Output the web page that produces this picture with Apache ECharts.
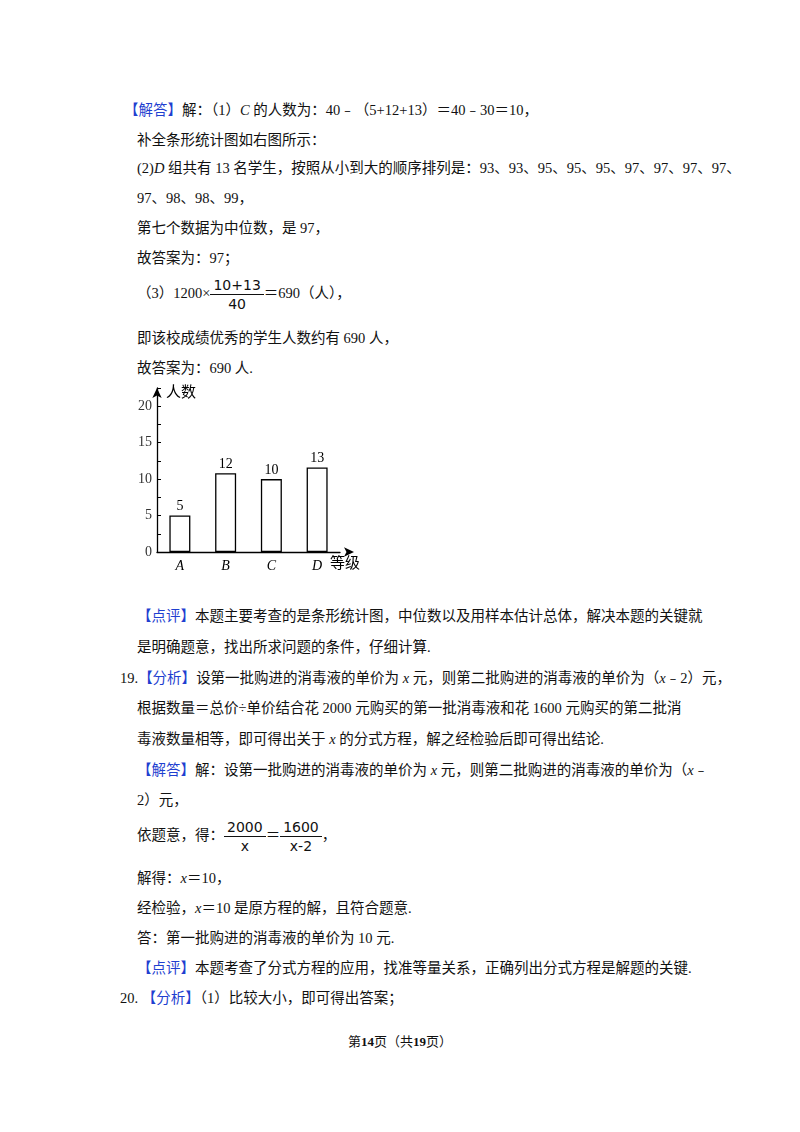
<!DOCTYPE html>
<html lang="zh">
<head>
<meta charset="UTF-8">
<title>第14页</title>
<script src="https://cdn.jsdelivr.net/npm/echarts@6/dist/echarts.min.js"></script>
<style>
  body { margin:0; width:800px; height:1132px; background:#fff; position:relative;
         font-family:"Liberation Serif","Noto Sans CJK SC",serif; font-size:14.5px; color:#111; }
  .l { position:absolute; white-space:nowrap; line-height:20px; }
  .b { color:#1f3fd0; }
  i { font-family:"Liberation Serif",serif; }
  .fr { display:inline-block; vertical-align:middle; text-align:center; font-family:"DejaVu Sans",sans-serif; font-size:14px; }
  .fr span { display:block; padding:0 3px; line-height:18px; }
  .fr span:first-child { border-bottom:1px solid #111; }
</style>
</head>
<body>
<div class="l" style="left:124px;top:100px"><span class="b">【解答】</span>解：（1）<i>C</i> 的人数为：40﹣（5+12+13）＝40﹣30＝10，</div>
<div class="l" style="left:137px;top:130px">补全条形统计图如右图所示：</div>
<div class="l" style="left:137px;top:158px">(2)<i>D</i> 组共有 13 名学生，按照从小到大的顺序排列是：93、93、95、95、95、97、97、97、97、</div>
<div class="l" style="left:137px;top:188px">97、98、98、99，</div>
<div class="l" style="left:137px;top:218px">第七个数据为中位数，是 97，</div>
<div class="l" style="left:137px;top:248px">故答案为：97；</div>
<div class="l" style="left:137px;top:276px">（3）1200×<span class="fr"><span>10+13</span><span>40</span></span>＝690（人），</div>
<div class="l" style="left:137px;top:328px">即该校成绩优秀的学生人数约有 690 人，</div>
<div class="l" style="left:137px;top:358px">故答案为：690 人.</div>

<div id="main" style="position:absolute;left:130px;top:380px;width:240px;height:200px"></div>

<div class="l" style="left:137px;top:606px"><span class="b">【点评】</span>本题主要考查的是条形统计图，中位数以及用样本估计总体，解决本题的关键就</div>
<div class="l" style="left:137px;top:637px">是明确题意，找出所求问题的条件，仔细计算.</div>
<div class="l" style="left:120px;top:668px">19.<span class="b">【分析】</span>设第一批购进的消毒液的单价为 <i>x</i> 元，则第二批购进的消毒液的单价为（<i>x</i>﹣2）元，</div>
<div class="l" style="left:137px;top:698px">根据数量＝总价÷单价结合花 2000 元购买的第一批消毒液和花 1600 元购买的第二批消</div>
<div class="l" style="left:137px;top:729px">毒液数量相等，即可得出关于 <i>x</i> 的分式方程，解之经检验后即可得出结论.</div>
<div class="l" style="left:137px;top:760px"><span class="b">【解答】</span>解：设第一批购进的消毒液的单价为 <i>x</i> 元，则第二批购进的消毒液的单价为（<i>x</i>﹣</div>
<div class="l" style="left:137px;top:790px">2）元，</div>
<div class="l" style="left:137px;top:818px">依题意，得：<span class="fr"><span>2000</span><span>x</span></span>＝<span class="fr"><span>1600</span><span>x-2</span></span>，</div>
<div class="l" style="left:137px;top:868px">解得：<i>x</i>＝10，</div>
<div class="l" style="left:137px;top:898px">经检验，<i>x</i>＝10 是原方程的解，且符合题意.</div>
<div class="l" style="left:137px;top:928px">答：第一批购进的消毒液的单价为 10 元.</div>
<div class="l" style="left:137px;top:958px"><span class="b">【点评】</span>本题考查了分式方程的应用，找准等量关系，正确列出分式方程是解题的关键.</div>
<div class="l" style="left:120px;top:988px">20.&nbsp;<span class="b">【分析】</span>（1）比较大小，即可得出答案；</div>
<div class="l" style="left:0;width:800px;text-align:center;top:1032px;font-size:13px">第<b>14</b>页（共<b>19</b>页）</div>

<script>
// 等级与人数
var grades = ['A', 'B', 'C', 'D'];
var counts = ['5', '12', '10', '13'];        // 标注的人数
var barHeights = [5, 10.8, 10, 11.6];        // 图中实际画出的高度
var yTicks = [0, 5, 10, 15, 20];

var myChart = echarts.init(document.getElementById('main'));
var option = {
    animation: false,
    grid: { left: 27, right: 30, top: 8, bottom: 28 },
    xAxis: {
        type: 'category',
        data: grades,
        axisLine: { symbol: ['none', 'arrow'], symbolSize: [7, 10], symbolOffset: [0, 14], lineStyle: { color: '#000', width: 1.3 } },
        axisTick: { show: false },
        axisLabel: { fontFamily: 'Liberation Serif', fontStyle: 'italic', fontSize: 14, color: '#000', margin: 7 }
    },
    yAxis: {
        type: 'value', min: 0, max: 22.5, interval: 2.5,
        splitLine: { show: false },
        axisLine: { show: true, symbol: ['none', 'arrow'], symbolSize: [7, 10], lineStyle: { color: '#000', width: 1.3 } },
        axisTick: { show: true, inside: true, length: 4, lineStyle: { color: '#000' } },
        axisLabel: {
            fontFamily: 'Liberation Serif', fontSize: 14, color: '#333', margin: 5,
            formatter: function (v) { return yTicks.indexOf(v) >= 0 ? String(v) : ''; }
        }
    },
    series: [{
        type: 'bar',
        barWidth: 21,
        data: barHeights,
        itemStyle: { color: '#fff', borderColor: '#000', borderWidth: 1.3 },
        label: {
            show: true, position: 'top', distance: 2,
            fontFamily: 'Liberation Serif', fontSize: 14, color: '#000',
            formatter: function (p) { return counts[p.dataIndex]; }
        }
    }],
    graphic: [
        { type: 'text', left: 36, top: 4, style: { text: '人数', font: '15px "Noto Sans CJK SC"', fill: '#000' } },
        { type: 'text', left: 200, top: 175, style: { text: '等级', font: '15px "Noto Sans CJK SC"', fill: '#000' } }
    ]
};
myChart.setOption(option);
</script>
</body>
</html>
